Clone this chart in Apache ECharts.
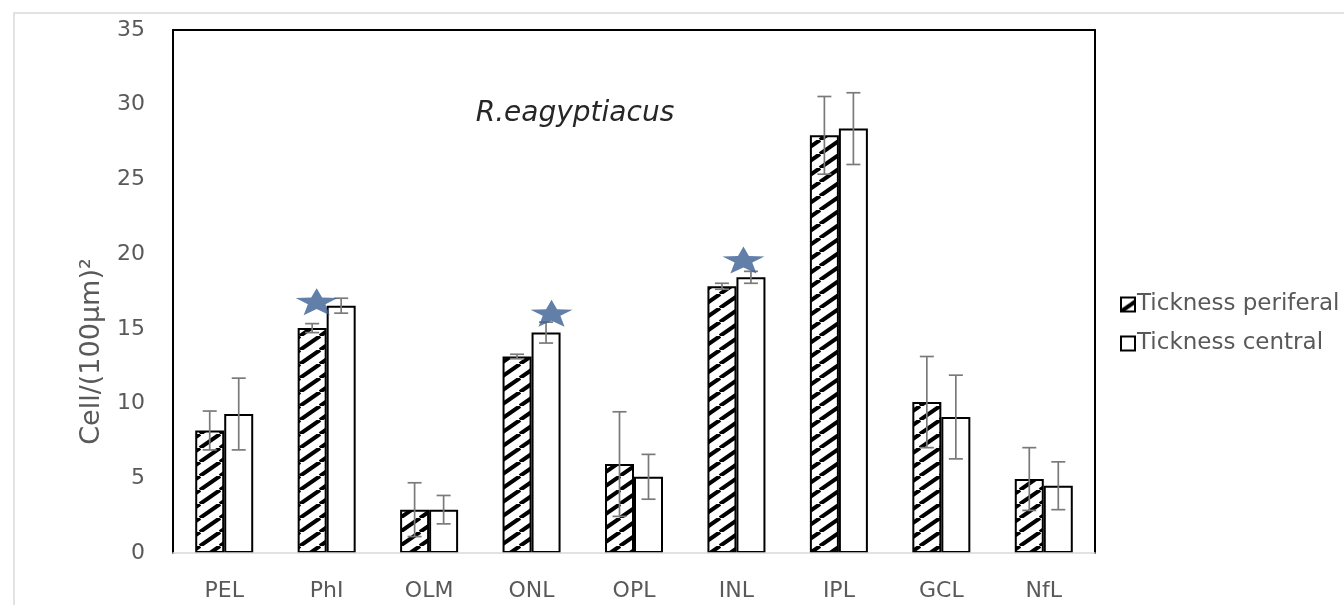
<!DOCTYPE html>
<html>
<head>
<meta charset="utf-8">
<script src="https://cdn.jsdelivr.net/npm/echarts@6/dist/echarts.min.js"></script>
<style>
  html, body { margin: 0; padding: 0; background: #fff; }
  #chart { width: 1344px; height: 605px; }
</style>
</head>
<body>
<div id="chart"></div>
<script>
// data
const layers = ["PEL", "PhI", "OLM", "ONL", "OPL", "INL", "IPL", "GCL", "NfL"];
const periferal = [8.2, 15.05, 2.9, 13.15, 5.95, 17.85, 27.95, 10.1, 4.95];
const periferalErr = [1.3, 0.3, 1.8, 0.15, 3.5, 0.2, 2.6, 3.05, 2.1];
const central = [9.3, 16.55, 2.9, 14.75, 5.1, 18.45, 28.4, 9.1, 4.5];
const centralErr = [2.4, 0.5, 0.95, 0.7, 1.5, 0.4, 2.4, 2.8, 1.6];
// significance stars: [category index, value]
const stars = [[1, 16.82], [3, 16.04], [5, 19.6]];
const yTicks = [0, 5, 10, 15, 20, 25, 30, 35];

const grey = "#595959";
const font = "'DejaVu Sans', sans-serif";
const barW = 29;
const starOffsets = [-10, 20, 7];
const starPath = "path://M50,0 L63,34 L100,36 L71,58 L81,98 L50,76 L19,98 L29,58 L0,36 L37,34 Z";

// diagonal hatch tile
function hatch() {
  const w = 20, h = 14;
  const c = document.createElement("canvas");
  c.width = w; c.height = h;
  const ctx = c.getContext("2d");
  ctx.fillStyle = "#fff";
  ctx.fillRect(0, 0, w, h);
  ctx.strokeStyle = "#000";
  ctx.lineWidth = 4;
  for (let k = -1; k <= 1; k++) {
    ctx.beginPath();
    ctx.moveTo(k * w, h);
    ctx.lineTo(k * w + w, 0);
    ctx.stroke();
  }
  return c;
}

function errorSeries(name, means, errs, side) {
  return {
    name: name + " err",
    type: "custom",
    z: 5,
    data: means.map((m, i) => [i, m - errs[i], m + errs[i]]),
    renderItem(params, api) {
      const i = api.value(0);
      const lo = api.coord([i, api.value(1)]);
      const hi = api.coord([i, api.value(2)]);
      const x = lo[0] + side * barW / 2;
      const cap = 7;
      const style = { stroke: "#7a7a7a", lineWidth: 1.7 };
      return {
        type: "group",
        children: [
          { type: "line", shape: { x1: x, y1: lo[1], x2: x, y2: hi[1] }, style },
          { type: "line", shape: { x1: x - cap, y1: lo[1], x2: x + cap, y2: lo[1] }, style },
          { type: "line", shape: { x1: x - cap, y1: hi[1], x2: x + cap, y2: hi[1] }, style }
        ]
      };
    }
  };
}

const chart = echarts.init(document.getElementById("chart"));

const option = {
  animation: false,
  backgroundColor: "#fff",
  textStyle: { fontFamily: font },
  title: {
    text: "R.eagyptiacus",
    left: 570,
    top: 95,
    textAlign: "center",
    textStyle: { fontFamily: font, fontStyle: "italic", fontWeight: "normal", fontSize: 28, color: "#262626" }
  },
  graphic: [
    {
      type: "rect",
      z: -10,
      shape: { x: 14, y: 13, width: 1400, height: 700 },
      style: { fill: "none", stroke: "#d9d9d9", lineWidth: 1.5 }
    }
  ],
  legend: {
    orient: "vertical",
    left: 1115,
    top: 288,
    icon: "rect",
    itemWidth: 14,
    itemHeight: 14,
    itemGap: 16,
    data: ["Tickness periferal", "Tickness central"],
    textStyle: { fontFamily: font, fontSize: 23, color: grey, padding: [0, 0, 0, -3] }
  },
  grid: { left: 173, right: 249, top: 30, bottom: 52 },
  xAxis: [
    {
      type: "category",
      data: layers,
      axisLine: { onZero: false, lineStyle: { color: "#d9d9d9", width: 1.5 } },
      axisTick: { show: false },
      axisLabel: { color: grey, fontSize: 22, margin: 27, fontFamily: font },
      z: 3
    },
    {
      type: "category",
      position: "top",
      data: layers,
      axisLine: { onZero: false, lineStyle: { color: "#000", width: 2 } },
      axisTick: { show: false },
      axisLabel: { show: false }
    }
  ],
  yAxis: [
    {
      type: "value",
      min: 0,
      max: 35,
      interval: 5,
      name: "Cell/(100μm)²",
      nameLocation: "middle",
      nameGap: 68,
      nameTextStyle: { color: grey, fontSize: 27, fontFamily: font, padding: [0, 120, 0, 0] },
      axisLine: { show: true, onZero: false, lineStyle: { color: "#000", width: 2 } },
      axisTick: { show: false },
      splitLine: { show: false },
      axisLabel: {
        color: grey, fontSize: 22, margin: 28, fontFamily: font,
        formatter: v => (yTicks.includes(v) ? String(v) : "")
      }
    },
    {
      type: "value",
      position: "right",
      min: 0,
      max: 35,
      interval: 5,
      axisLine: { show: true, onZero: false, lineStyle: { color: "#000", width: 2 } },
      axisTick: { show: false },
      axisLabel: { show: false },
      splitLine: { show: false }
    }
  ],
  series: [
    {
      name: "Tickness periferal",
      type: "bar",
      barWidth: barW,
      barGap: "0%",
      data: periferal,
      itemStyle: {
        color: { image: hatch(), repeat: "repeat" },
        borderColor: "#000",
        borderWidth: 2
      }
    },
    {
      name: "Tickness central",
      type: "bar",
      barWidth: barW,
      data: central,
      itemStyle: { color: "#fff", borderColor: "#000", borderWidth: 2 }
    },
    errorSeries("periferal", periferal, periferalErr, -1),
    errorSeries("central", central, centralErr, 1),
    {
      name: "stars",
      type: "scatter",
      z: 6,
      symbol: starPath,
      symbolSize: [42, 27],
      itemStyle: { color: "#3a5f94" },
      data: stars.map((s, k) => ({ value: s, symbolOffset: [starOffsets[k], 0] }))
    }
  ]
};

chart.setOption(option);
</script>
</body>
</html>
